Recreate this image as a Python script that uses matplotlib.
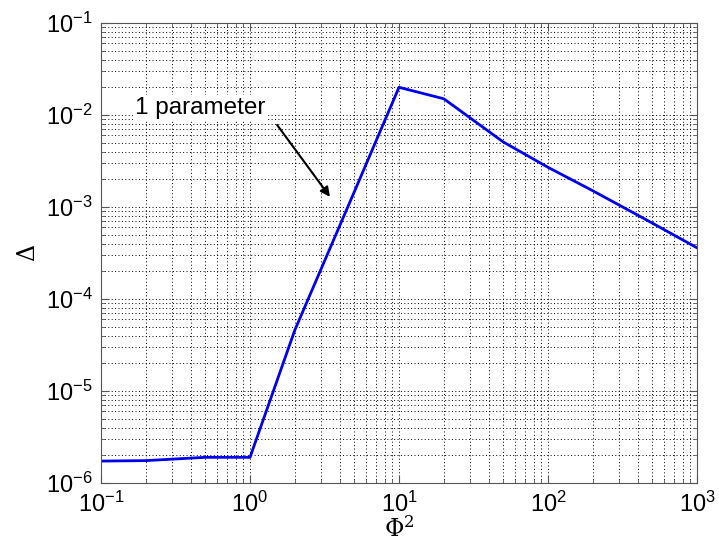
import matplotlib
matplotlib.use('Agg')
import matplotlib.pyplot as plt

# data (log-log)
phi2 = [0.1, 0.2, 0.5, 1, 2, 5, 10, 20, 50, 100, 200, 500, 1000]
delta = [1.73e-6, 1.75e-6, 1.9e-6, 1.9e-6, 4.6e-5, 1.45e-3, 2.0e-2,
         1.5e-2, 5.1e-3, 2.7e-3, 1.5e-3, 6.7e-4, 3.6e-4]

plt.rcParams.update({'font.family': 'Liberation Sans', 'font.size': 15,
                     'mathtext.fontset': 'dejavuserif'})

fig = plt.figure(figsize=(7.19, 5.57), dpi=100)
ax = fig.add_axes([0.1405, 0.1329, 0.8289, 0.8258])

ax.loglog(phi2, delta, color='#0000ee', linewidth=2.0)
ax.set_xlim(0.1, 1000); ax.set_ylim(1e-6, 1e-1)

ax.grid(True, which='both', color='black', linestyle=(0, (1, 2.5)), linewidth=0.7)
ax.tick_params(which='both', direction='in', top=True, right=True, color='#555555')
ax.tick_params(which='major', length=6, labelsize=17, pad=6)
ax.tick_params(which='minor', length=3)
for s in ax.spines.values():
    s.set_color('#555555')

ax.set_xlabel(r'$\Phi^2$', fontsize=17, labelpad=0)
ax.set_ylabel(r'$\Delta$', fontsize=17, labelpad=4)

ax.text(0.168, 1.2e-2, '1 parameter', fontsize=17.5, va='center', ha='left',
        bbox=dict(boxstyle='square,pad=0.05', fc='white', ec='none'))
ax.annotate('', xy=(3.44, 1.29e-3), xytext=(1.52, 7.8e-3),
            arrowprops=dict(arrowstyle='-|>', color='black', lw=1.5,
                            shrinkA=0, shrinkB=0, mutation_scale=14))

plt.savefig('out.png', dpi=100)
